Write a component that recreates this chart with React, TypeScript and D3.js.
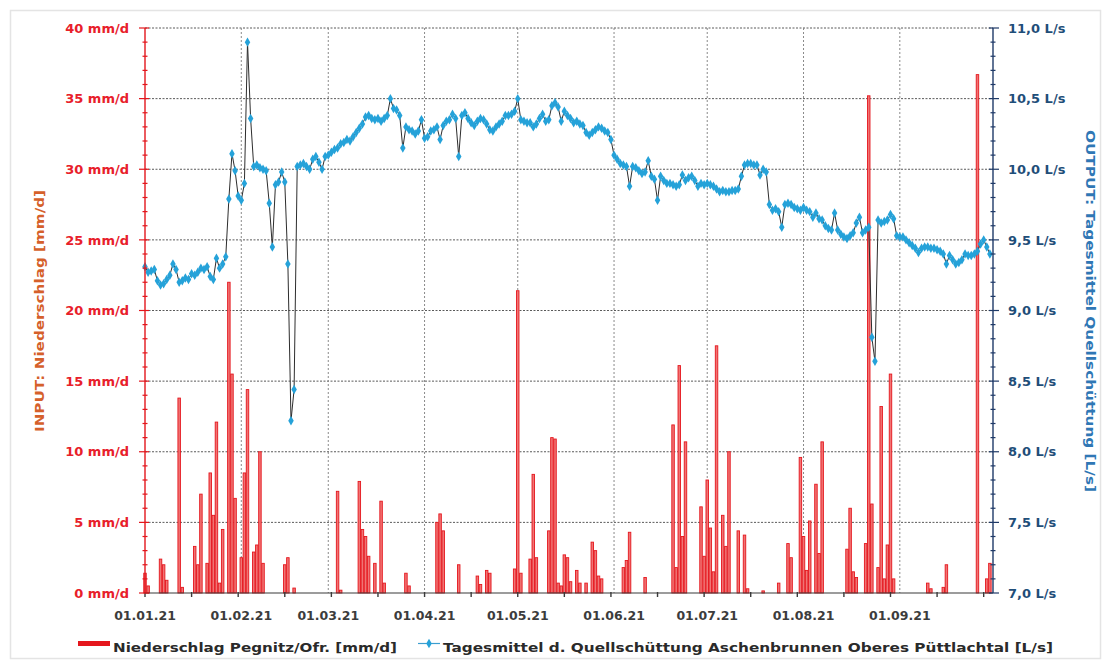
import React, { useEffect, useRef } from 'react';
import * as d3 from 'd3';

// Niederschlag Pegnitz/Ofr. [mm/d], one value per day
const rainJan = [1.4, 0.5, 0, 0, 0, 2.4, 2.0, 0.9, 0, 0, 0, 13.8, 0.4, 0, 0, 0, 3.3, 2.0, 7.0, 0, 2.1, 8.5, 5.5, 12.1, 0.7, 4.5, 0, 22.0, 15.5, 6.7, 0];
const rainFeb = [2.5, 8.5, 14.4, 0, 2.9, 3.4, 10.0, 2.1, 0, 0, 0, 0, 0, 0, 2.0, 2.5, 0, 0.35, 0, 0, 0, 0, 0, 0, 0, 0, 0, 0];
const rainMar = [0, 0, 0, 7.2, 0.2, 0, 0, 0, 0, 0, 7.9, 4.5, 4.0, 2.6, 0, 2.1, 0, 6.5, 0.7, 0, 0, 0, 0, 0, 0, 1.4, 0.5, 0, 0, 0, 0];
const rainApr = [0, 0, 0, 0, 5.0, 5.6, 4.4, 0, 0, 0, 0, 2.0, 0, 0, 0, 0, 0, 1.2, 0.6, 0, 1.6, 1.4, 0, 0, 0, 0, 0, 0, 0, 1.7];
const rainMay = [21.4, 1.4, 0, 0, 2.4, 8.4, 2.5, 0, 0, 0, 4.4, 11.0, 10.9, 0.7, 0.5, 2.7, 2.5, 0.8, 0, 1.6, 0.7, 0, 0.7, 0, 3.6, 3.0, 1.2, 1.0, 0, 0, 0];
const rainJun = [0, 0, 0, 1.8, 2.3, 4.3, 0, 0, 0, 0, 1.1, 0, 0, 0, 0, 0, 0, 0, 0, 11.9, 1.8, 16.1, 4.0, 10.7, 0, 0, 0, 0, 6.1, 2.6];
const rainJul = [8.0, 4.6, 1.5, 17.5, 0, 5.5, 3.3, 10.0, 0, 0, 4.4, 0, 4.1, 0.3, 0, 0, 0, 0, 0.15, 0, 0, 0, 0, 0.7, 0, 0, 3.5, 2.5, 0, 0, 9.6];
const rainAug = [4.0, 1.6, 5.1, 0, 7.7, 2.8, 10.7, 0, 0, 0, 0, 0, 0, 0, 3.1, 6.0, 1.5, 1.1, 0, 0, 3.5, 35.2, 6.3, 0, 1.8, 13.2, 1.0, 3.4, 15.5, 1.0, 0];
const rainSep = [0, 0, 0, 0, 0, 0, 0, 0, 0, 0.7, 0.3, 0, 0, 0, 0.4, 2.0, 0, 0, 0, 0, 0, 0, 0, 0, 0, 36.7, 0, 0, 1.0, 2.1];

// Tagesmittel Quellschüttung Aschenbrunnen [L/s], one value per day
const flowJan = [9.31, 9.27, 9.28, 9.29, 9.21, 9.18, 9.19, 9.22, 9.25, 9.33, 9.29, 9.2, 9.21, 9.23, 9.22, 9.26, 9.25, 9.27, 9.3, 9.29, 9.31, 9.24, 9.22, 9.37, 9.3, 9.33, 9.38, 9.79, 10.11, 9.99, 9.81];
const flowFeb = [9.78, 9.9, 10.9, 10.36, 10.02, 10.03, 10.01, 10.0, 9.99, 9.76, 9.45, 9.89, 9.91, 9.98, 9.91, 9.33, 8.22, 8.44, 10.02, 10.03, 10.04, 10.02, 10.0, 10.07, 10.09, 10.05, 10.0, 10.09];
const flowMar = [10.1, 10.12, 10.14, 10.15, 10.18, 10.19, 10.21, 10.2, 10.23, 10.26, 10.29, 10.32, 10.37, 10.38, 10.36, 10.35, 10.36, 10.34, 10.36, 10.38, 10.5, 10.43, 10.42, 10.38, 10.15, 10.3, 10.28, 10.27, 10.25, 10.27, 10.35];
const flowApr = [10.22, 10.23, 10.27, 10.28, 10.3, 10.21, 10.31, 10.34, 10.35, 10.39, 10.36, 10.09, 10.38, 10.4, 10.36, 10.33, 10.31, 10.34, 10.36, 10.35, 10.32, 10.28, 10.27, 10.3, 10.32, 10.34, 10.38, 10.38, 10.39, 10.41];
const flowMay = [10.5, 10.35, 10.34, 10.33, 10.33, 10.3, 10.32, 10.36, 10.39, 10.34, 10.35, 10.45, 10.47, 10.44, 10.34, 10.41, 10.38, 10.36, 10.33, 10.34, 10.32, 10.31, 10.26, 10.24, 10.26, 10.28, 10.3, 10.29, 10.27, 10.26, 10.21];
const flowJun = [10.1, 10.07, 10.04, 10.03, 10.02, 9.88, 10.02, 10.01, 9.99, 9.97, 9.98, 10.06, 9.95, 9.93, 9.78, 9.95, 9.92, 9.9, 9.9, 9.89, 9.88, 9.89, 9.96, 9.92, 9.94, 9.95, 9.92, 9.88, 9.9, 9.89];
const flowJul = [9.9, 9.89, 9.88, 9.86, 9.84, 9.85, 9.84, 9.84, 9.85, 9.85, 9.86, 9.95, 10.03, 10.04, 10.04, 10.03, 10.03, 9.96, 10.0, 9.98, 9.75, 9.71, 9.72, 9.7, 9.59, 9.75, 9.76, 9.75, 9.73, 9.72, 9.71];
const flowAug = [9.73, 9.71, 9.7, 9.66, 9.69, 9.65, 9.64, 9.6, 9.58, 9.57, 9.69, 9.57, 9.54, 9.52, 9.51, 9.53, 9.55, 9.62, 9.66, 9.55, 9.57, 9.59, 8.81, 8.64, 9.64, 9.62, 9.63, 9.64, 9.68, 9.65, 9.53];
const flowSep = [9.52, 9.52, 9.5, 9.48, 9.46, 9.44, 9.41, 9.44, 9.45, 9.45, 9.44, 9.44, 9.43, 9.42, 9.4, 9.33, 9.39, 9.36, 9.33, 9.34, 9.36, 9.4, 9.39, 9.39, 9.4, 9.42, 9.47, 9.5, 9.45, 9.4];

const precip = [...rainJan, ...rainFeb, ...rainMar, ...rainApr, ...rainMay, ...rainJun, ...rainJul, ...rainAug, ...rainSep];
const discharge = [...flowJan, ...flowFeb, ...flowMar, ...flowApr, ...flowMay, ...flowJun, ...flowJul, ...flowAug, ...flowSep];

const leftTicks = [0, 5, 10, 15, 20, 25, 30, 35, 40];
const rightTicks = [7, 7.5, 8, 8.5, 9, 9.5, 10, 10.5, 11];

const FONT = "'DejaVu Sans', 'Liberation Sans', sans-serif";

export default function App() {
  const svgRef = useRef<SVGSVGElement>(null);

  useEffect(() => {
    if (!svgRef.current) return;
    const svg = d3.select(svgRef.current);
    svg.selectAll('*').remove();

    const left = 145, right = 993, top = 28, bottom = 593;
    const start = new Date(Date.UTC(2021, 0, 1));
    const end = new Date(Date.UTC(2021, 9, 1));
    const dayDate = (i: number) => d3.utcDay.offset(start, i);

    const x = d3.scaleUtc().domain([start, end]).range([left, right]);
    const yL = d3.scaleLinear().domain([0, 40]).range([bottom, top]);
    const yR = d3.scaleLinear().domain([7, 11]).range([bottom, top]);

    // light chart frame
    svg.append('rect')
      .attr('x', 10.5).attr('y', 10.5).attr('width', 1090).attr('height', 648)
      .attr('fill', 'white').attr('stroke', '#e4e4e4').attr('stroke-width', 1.5);

    const months = d3.utcMonth.range(start, end);

    // gridlines
    const grid = svg.append('g');
    grid.selectAll('line.h')
      .data(leftTicks.filter((t) => t > 0))
      .enter().append('line')
      .attr('x1', left).attr('x2', right)
      .attr('y1', (d) => yL(d)).attr('y2', (d) => yL(d))
      .attr('stroke', '#5a5a5a').attr('stroke-width', 1)
      .attr('stroke-dasharray', '2,1.5');
    grid.selectAll('line.v')
      .data(months.slice(1))
      .enter().append('line')
      .attr('x1', (d) => x(d)).attr('x2', (d) => x(d))
      .attr('y1', top).attr('y2', bottom)
      .attr('stroke', '#8a8a8a').attr('stroke-width', 1)
      .attr('stroke-dasharray', '2,2');

    // precipitation bars
    const bw = (x(dayDate(1)) - x(dayDate(0))) * 0.8;
    svg.append('g')
      .selectAll('rect')
      .data(precip.map((v, i) => ({ v, i })).filter((d) => d.v > 0))
      .enter().append('rect')
      .attr('x', (d) => x(dayDate(d.i)) - bw / 2)
      .attr('width', bw)
      .attr('y', (d) => yL(d.v))
      .attr('height', (d) => yL(0) - yL(d.v))
      .attr('fill', '#f07474')
      .attr('stroke', '#e5161d')
      .attr('stroke-width', 0.9);

    // discharge line + markers
    const line = d3.line<number>()
      .x((_, i) => x(dayDate(i)))
      .y((d) => yR(d));
    svg.append('path')
      .datum(discharge)
      .attr('d', line)
      .attr('fill', 'none')
      .attr('stroke', '#2d2d2d')
      .attr('stroke-width', 1);
    const diamond = d3.symbol().type(d3.symbolDiamond).size(26);
    svg.append('g')
      .selectAll('path')
      .data(discharge)
      .enter().append('path')
      .attr('d', diamond)
      .attr('transform', (d, i) => `translate(${x(dayDate(i))},${yR(d)})`)
      .attr('fill', '#25a2d9');

    // x axis
    svg.append('line')
      .attr('x1', left).attr('x2', right).attr('y1', bottom).attr('y2', bottom)
      .attr('stroke', '#3a3a3a').attr('stroke-width', 1.2);
    const minorX = d3.range(0, 273, 15).map(dayDate);
    svg.append('g').selectAll('line')
      .data(minorX)
      .enter().append('line')
      .attr('x1', (d) => x(d)).attr('x2', (d) => x(d))
      .attr('y1', bottom - 1).attr('y2', bottom + 4)
      .attr('stroke', '#3a3a3a').attr('stroke-width', 1.4);
    svg.append('g').selectAll('text')
      .data(months)
      .enter().append('text')
      .attr('x', (d) => x(d)).attr('y', 620)
      .attr('text-anchor', 'middle')
      .attr('font-family', FONT).attr('font-weight', 'bold').attr('font-size', 12.5)
      .attr('fill', '#3c3c3c')
      .text((d) => d3.utcFormat('%d.%m.%y')(d));

    // left axis (red)
    const leftAxis = svg.append('g');
    leftAxis.append('line')
      .attr('x1', left).attr('x2', left).attr('y1', top).attr('y2', bottom)
      .attr('stroke', '#e3161c').attr('stroke-width', 1.4);
    leftAxis.selectAll('line.minor')
      .data(d3.range(0, 41, 1))
      .enter().append('line')
      .attr('x1', (d) => (d % 5 === 0 ? left - 6 : left - 2.5))
      .attr('x2', (d) => (d % 5 === 0 ? left + 4 : left + 2.5))
      .attr('y1', (d) => yL(d)).attr('y2', (d) => yL(d))
      .attr('stroke', '#e3161c').attr('stroke-width', 1.2);
    leftAxis.selectAll('text')
      .data(leftTicks)
      .enter().append('text')
      .attr('x', 129).attr('y', (d) => yL(d))
      .attr('dy', '0.36em')
      .attr('text-anchor', 'end')
      .attr('font-family', FONT).attr('font-weight', 'bold').attr('font-size', 13)
      .attr('fill', '#e8202a')
      .text((d) => `${d} mm/d`);

    // right axis (navy)
    const rightAxis = svg.append('g');
    rightAxis.append('line')
      .attr('x1', right).attr('x2', right).attr('y1', top).attr('y2', bottom)
      .attr('stroke', '#1f3a68').attr('stroke-width', 1.4);
    rightAxis.selectAll('line.minor')
      .data(d3.range(70, 111, 1).map((v) => v / 10))
      .enter().append('line')
      .attr('x1', (d, i) => (i % 5 === 0 ? right - 4 : right - 2.5))
      .attr('x2', (d, i) => (i % 5 === 0 ? right + 6 : right + 2.5))
      .attr('y1', (d) => yR(d)).attr('y2', (d) => yR(d))
      .attr('stroke', '#1f3a68').attr('stroke-width', 1.2);
    rightAxis.selectAll('text')
      .data(rightTicks)
      .enter().append('text')
      .attr('x', 1008).attr('y', (d) => yR(d))
      .attr('dy', '0.36em')
      .attr('text-anchor', 'start')
      .attr('font-family', FONT).attr('font-weight', 'bold').attr('font-size', 13)
      .attr('fill', '#1f4e79')
      .text((d) => `${d3.format('.1f')(d).replace('.', ',')} L/s`);

    // axis titles
    svg.append('text')
      .attr('transform', 'translate(44,311) rotate(-90)')
      .attr('text-anchor', 'middle')
      .attr('font-family', FONT).attr('font-weight', 'bold').attr('font-size', 12.5)
      .attr('fill', '#d5602a')
      .attr('textLength', 242).attr('lengthAdjust', 'spacingAndGlyphs')
      .text('INPUT: Niederschlag [mm/d]');
    svg.append('text')
      .attr('transform', 'translate(1086,311) rotate(90)')
      .attr('text-anchor', 'middle')
      .attr('font-family', FONT).attr('font-weight', 'bold').attr('font-size', 12.5)
      .attr('fill', '#2f77b5')
      .attr('textLength', 362).attr('lengthAdjust', 'spacingAndGlyphs')
      .text('OUTPUT: Tagesmittel Quellschüttung [L/s]');

    // legend
    const legend = svg.append('g');
    legend.append('rect')
      .attr('x', 78).attr('y', 641).attr('width', 32).attr('height', 5)
      .attr('fill', '#e5161d');
    legend.append('text')
      .attr('x', 113).attr('y', 652)
      .attr('font-family', FONT).attr('font-weight', 'bold').attr('font-size', 13)
      .attr('fill', '#2a2a2a')
      .attr('textLength', 284).attr('lengthAdjust', 'spacingAndGlyphs')
      .text('Niederschlag Pegnitz/Ofr. [mm/d]');
    legend.append('line')
      .attr('x1', 418).attr('x2', 440).attr('y1', 643.5).attr('y2', 643.5)
      .attr('stroke', '#3c9ed0').attr('stroke-width', 1.2);
    legend.append('path')
      .attr('d', diamond)
      .attr('transform', 'translate(429,643.5)')
      .attr('fill', '#25a2d9');
    legend.append('text')
      .attr('x', 443).attr('y', 652)
      .attr('font-family', FONT).attr('font-weight', 'bold').attr('font-size', 13)
      .attr('fill', '#2a2a2a')
      .attr('textLength', 610).attr('lengthAdjust', 'spacingAndGlyphs')
      .text('Tagesmittel d. Quellschüttung Aschenbrunnen Oberes Püttlachtal [L/s]');
  }, []);

  return (
    <svg
      ref={svgRef}
      width={1107}
      height={663}
      style={{ position: 'absolute', left: 0, top: 0, background: '#fff' }}
    />
  );
}
